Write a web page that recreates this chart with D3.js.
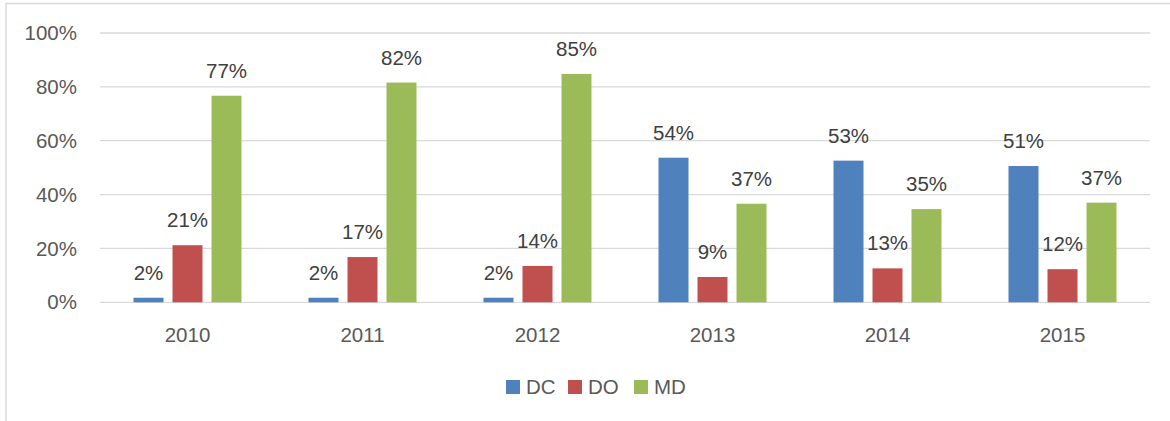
<!DOCTYPE html>
<html>
<head>
<meta charset="utf-8">
<script src="https://d3js.org/d3.v7.min.js"></script>
<style>
  body { margin: 0; background: #fff; }
  text { font-family: "Liberation Sans", Arial, sans-serif; }
</style>
</head>
<body>
<div id="chart"></div>
<script>
var years = ["2010", "2011", "2012", "2013", "2014", "2015"];
var seriesNames = ["DC", "DO", "MD"];
var dcValues = [1.7, 1.7, 1.7, 53.7, 52.6, 50.6];
var doValues = [21.2, 16.8, 13.5, 9.4, 12.6, 12.3];
var mdValues = [76.7, 81.6, 84.8, 36.6, 34.6, 37.0];
var yTicks = [0, 20, 40, 60, 80, 100];
var colors = ["#4F81BD", "#C0504D", "#9BBB59"];

var width = 1170, height = 421;
var plotLeft = 100, plotRight = 1150, plotTop = 33, plotBottom = 302.3;

var allValues = [dcValues, doValues, mdValues];
var data = years.map(function(yr, i) {
  return { year: yr, vals: seriesNames.map(function(s, j) { return { key: s, value: allValues[j][i], idx: j }; }) };
});

var svg = d3.select("#chart").append("svg")
  .attr("width", width)
  .attr("height", height);

// chart frame (cropped on the right and bottom)
svg.append("rect")
  .attr("x", 6).attr("y", 3.5)
  .attr("width", 1200).attr("height", 500)
  .attr("fill", "none")
  .attr("stroke", "#d9d9d9")
  .attr("stroke-width", 1.5);

var x = d3.scaleBand().domain(years).range([plotLeft, plotRight]);
var y = d3.scaleLinear().domain([0, 100]).range([plotBottom, plotTop]);
var barWidth = 30, step = 39;

// gridlines
svg.append("g").selectAll("line")
  .data(yTicks).enter()
  .append("line")
  .attr("x1", plotLeft).attr("x2", plotRight)
  .attr("y1", d => y(d)).attr("y2", d => y(d))
  .attr("stroke", "#d9d9d9")
  .attr("stroke-width", 1.3);

// y labels
svg.append("g").selectAll("text")
  .data(yTicks).enter()
  .append("text")
  .attr("x", 77)
  .attr("y", d => y(d))
  .attr("dy", "0.35em")
  .attr("text-anchor", "end")
  .attr("font-size", 20.5)
  .attr("fill", "#595959")
  .text(d => d + "%");

// x labels
svg.append("g").selectAll("text")
  .data(years).enter()
  .append("text")
  .attr("x", d => x(d) + x.bandwidth() / 2)
  .attr("y", 341.5)
  .attr("text-anchor", "middle")
  .attr("font-size", 20.5)
  .attr("fill", "#595959")
  .text(d => d);

// bars
var groups = svg.append("g").selectAll("g")
  .data(data).enter()
  .append("g")
  .attr("transform", d => `translate(${x(d.year) + x.bandwidth() / 2}, 0)`);

groups.selectAll("rect")
  .data(d => d.vals).enter()
  .append("rect")
  .attr("x", d => (d.idx - 1) * step - barWidth / 2)
  .attr("y", d => y(d.value))
  .attr("width", barWidth)
  .attr("height", d => y(0) - y(d.value))
  .attr("fill", d => colors[d.idx]);

groups.selectAll("text")
  .data(d => d.vals).enter()
  .append("text")
  .attr("x", d => (d.idx - 1) * step)
  .attr("y", d => y(d.value) - 18)
  .attr("text-anchor", "middle")
  .attr("font-size", 20.5)
  .attr("fill", "#404040")
  .text(d => Math.round(d.value) + "%");

// legend
var legendX = [506, 568, 634];
var legend = svg.append("g").selectAll("g")
  .data(seriesNames).enter()
  .append("g")
  .attr("transform", (d, i) => `translate(${legendX[i]}, 380)`);

legend.append("rect")
  .attr("width", 14).attr("height", 14)
  .attr("fill", (d, i) => colors[i]);

legend.append("text")
  .attr("x", 20)
  .attr("y", 7)
  .attr("dy", "0.35em")
  .attr("font-size", 20.5)
  .attr("fill", "#595959")
  .text(d => d);
</script>
</body>
</html>
